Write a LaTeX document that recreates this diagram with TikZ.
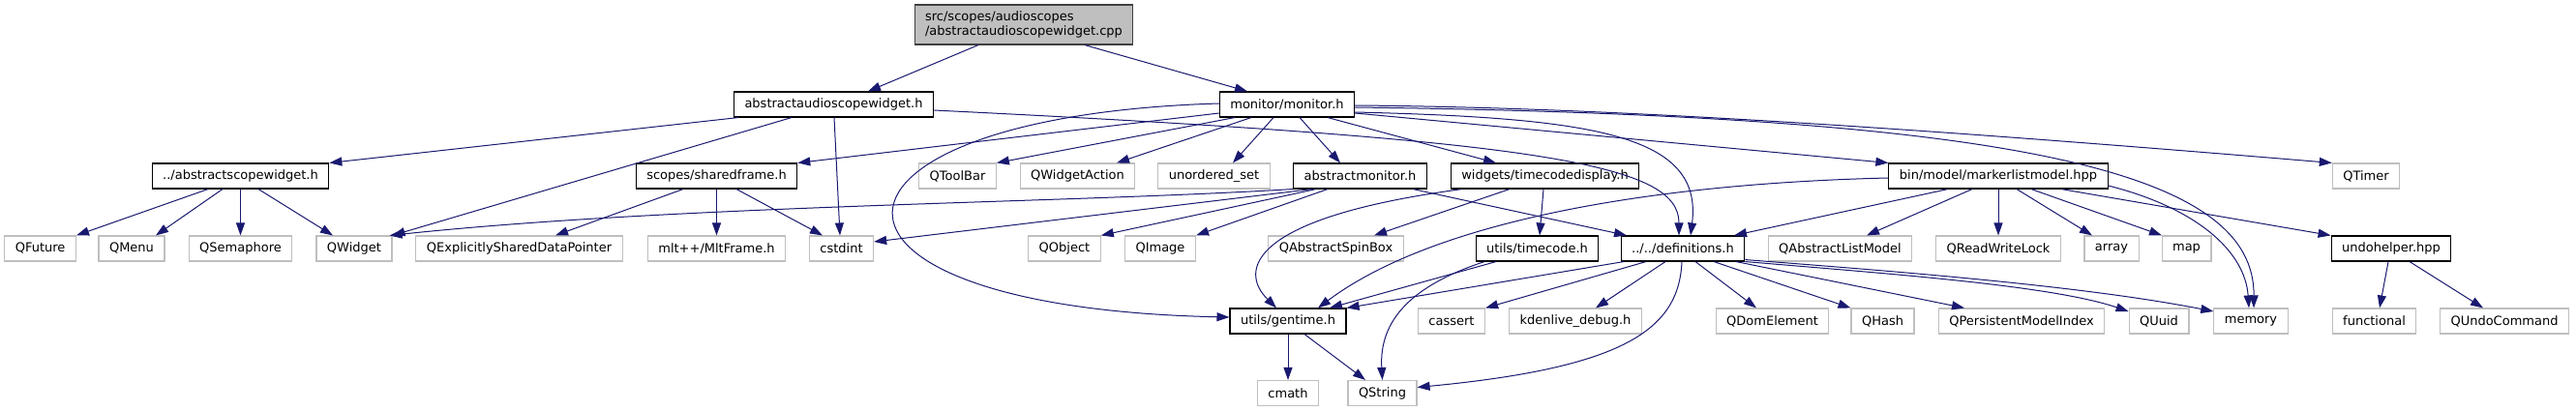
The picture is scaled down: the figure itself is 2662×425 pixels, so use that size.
\documentclass[tikz,border=0pt]{standalone}
\usepackage{fontspec}
\setmainfont{DejaVu Sans}
\usepackage{tikz}
\usetikzlibrary{
  arrows.meta
}
\definecolor{dxblue}{HTML}{191970}
\definecolor{dxgrey}{HTML}{BFBFBF}

\begin{document}
\begin{tikzpicture}[
    x=1pt, y=-1pt,
    font=\fontsize{13}{14.5}\selectfont,
    >={Triangle[length=13pt,width=9pt]},
    % Box styles
    box/.style={
        rectangle, line width=1.1pt, fill=white,
        minimum height=26pt, inner xsep=11pt, inner ysep=3pt
    },
    doc/.style={box, draw=black},
    ext/.style={box, draw=dxgrey},
    top/.style={box, draw=black!75, fill=dxgrey, align=left, minimum height=41pt},
    % Arrow style
    arr/.style={->, line width=1pt, draw=dxblue, fill=none}
]

\useasboundingbox[fill=white] (0,0) rectangle (2662,425);

% ==========================================
% NODES & PLACEMENT
% ==========================================

% --- Source file (Level 0) ---
\node[top] (src) at (1058,25.5) {src/scopes/audioscopes\\/abstractaudioscopewidget.cpp};

% --- Direct includes (Level 1) ---
\node[doc] (aasw) at (861.5,108) {abstractaudioscopewidget.h};
\node[doc] (mon) at (1330,108) {monitor/monitor.h};

% --- Level 2 ---
\node[doc] (asw) at (248.5,182) {../abstractscopewidget.h};
\node[doc] (shf) at (740.5,182) {scopes/sharedframe.h};
\node[ext] (qtoolbar) at (989.5,182) {QToolBar};
\node[ext] (qwaction) at (1113.5,182) {QWidgetAction};
\node[ext] (uset) at (1254.5,182) {unordered\_set};
\node[doc] (amon) at (1405.5,182) {abstractmonitor.h};
\node[doc] (tcd) at (1596.5,182) {widgets/timecodedisplay.h};
\node[doc] (mlm) at (2065,182) {bin/model/markerlistmodel.hpp};
\node[ext] (qtimer) at (2445,182) {QTimer};

% --- Level 3 ---
\node[ext] (qfuture) at (41.6,257) {QFuture};
\node[ext] (qmenu) at (136,257) {QMenu};
\node[ext] (qsema) at (248.5,257) {QSemaphore};
\node[ext] (qwidget) at (366,257) {QWidget};
\node[ext] (qesdp) at (536.5,257) {QExplicitlySharedDataPointer};
\node[ext] (mltframe) at (740.5,257) {mlt++/MltFrame.h};
\node[ext] (cstdint) at (869.5,257) {cstdint};
\node[ext] (qobject) at (1100,257) {QObject};
\node[ext] (qimage) at (1199,257) {QImage};
\node[ext] (qaspin) at (1380.5,257) {QAbstractSpinBox};
\node[doc] (tc) at (1588.5,257) {utils/timecode.h};
\node[doc] (defs) at (1739,257) {../../definitions.h};
\node[ext] (qalm) at (1901.5,257) {QAbstractListModel};
\node[ext] (qrwl) at (2065,257) {QReadWriteLock};
\node[ext] (array) at (2182,257) {array};
\node[ext] (map) at (2259.5,257) {map};
\node[doc] (undo) at (2471,257) {undohelper.hpp};

% --- Level 4 ---
\node[doc] (gentime) at (1331,332) {utils/gentime.h};
\node[ext] (cassert) at (1500,332) {cassert};
\node[ext] (kdebug) at (1628,332) {kdenlive\_debug.h};
\node[ext] (qdom) at (1831.5,332) {QDomElement};
\node[ext] (qhash) at (1945.5,332) {QHash};
\node[ext] (qpmi) at (2089,332) {QPersistentModelIndex};
\node[ext] (quuid) at (2231,332) {QUuid};
\node[ext] (memory) at (2326,332) {memory};
\node[ext] (functional) at (2453.5,332) {functional};
\node[ext] (qundo) at (2588,332) {QUndoCommand};

% --- Level 5 ---
\node[ext] (cmath) at (1331,406.5) {cmath};
\node[ext] (qstring) at (1428.5,406.5) {QString};

% ==========================================
% INCLUDE EDGES
% ==========================================

% 1. Source file
\draw[arr] ([xshift=-47pt]src.south) -- ([xshift=35.5pt]aasw.north);
\draw[arr] ([xshift=63pt]src.south) -- ([xshift=-41pt]mon.north);

% 2. abstractaudioscopewidget.h
\draw[arr] ([xshift=-98.5pt]aasw.south) -- (asw.north east);
\draw[arr] ([xshift=-43.5pt]aasw.south) -- (qwidget.north east);
\draw[arr] ([xshift=0.5pt]aasw.south) -- ([xshift=-1.5pt]cstdint.north);
\draw[arr] ([yshift=-6pt]aasw.east) .. controls (1600,145) and (1735,170) .. ([xshift=-4pt]defs.north);

% 3. ../abstractscopewidget.h
\draw[arr] ([xshift=-33.5pt]asw.south) -- (qfuture.north east);
\draw[arr] ([xshift=-18.5pt]asw.south) -- ([xshift=25pt]qmenu.north);
\draw[arr] (asw.south) -- (qsema.north);
\draw[arr] ([xshift=18.5pt]asw.south) -- ([xshift=-22pt]qwidget.north);

% 4. scopes/sharedframe.h
\draw[arr] ([xshift=-34.5pt]shf.south) -- ([xshift=37.5pt]qesdp.north);
\draw[arr] (shf.south) -- (mltframe.north);
\draw[arr] ([xshift=20.5pt]shf.south) -- ([xshift=-19.5pt]cstdint.north);

% 5. monitor/monitor.h
\draw[arr] ([yshift=-9pt]mon.west) -- (shf.north east);
\draw[arr] ([xshift=-54pt]mon.south) -- (qtoolbar.north east);
\draw[arr] ([xshift=-37pt]mon.south) -- ([xshift=40.5pt]qwaction.north);
\draw[arr] ([xshift=-14pt]mon.south) -- ([xshift=19.5pt]uset.north);
\draw[arr] ([xshift=13pt]mon.south) -- ([xshift=-20.5pt]amon.north);
\draw[arr] ([xshift=42pt]mon.south) -- ([xshift=-50.5pt]tcd.north);
\draw[arr] ([yshift=-9pt]mon.east) -- (mlm.north west);
\draw[arr] ([yshift=-1pt]mon.east) .. controls (1650,111) and (1950,130) .. (qtimer.north west);
\draw[arr] ([yshift=-3pt]mon.east) .. controls (2100,120) and (2330,180) .. ([xshift=3pt]memory.north);
\draw[arr] ([yshift=-8pt]mon.east) .. controls (1650,122) and (1760,140) .. ([xshift=8pt]defs.north);
\draw[arr] ([yshift=1pt]mon.west) .. controls (820,120) and (800,318) .. ([yshift=4pt]gentime.west);

% 6. abstractmonitor.h
\draw[arr] (amon.south west) .. controls (1100,210) and (700,212) .. ([xshift=-3pt]qwidget.north east);
\draw[arr] ([xshift=-49.5pt]amon.south) -- ([yshift=7pt]cstdint.east);
\draw[arr] ([xshift=-45.5pt]amon.south) -- (qobject.north east);
\draw[arr] ([xshift=-33.5pt]amon.south) -- (qimage.north east);
\draw[arr] ([xshift=54.5pt]amon.south) -- ([xshift=-58pt]defs.north);

% 7. widgets/timecodedisplay.h
\draw[arr] ([xshift=-85.5pt]tcd.south) .. controls (1290,225) and (1280,280) .. ([xshift=-12pt]gentime.north);
\draw[arr] ([xshift=-36.5pt]tcd.south) -- ([xshift=39.5pt]qaspin.north);
\draw[arr] ([xshift=-1.5pt]tcd.south) -- ([xshift=2.5pt]tc.north);

% 8. bin/model/markerlistmodel.hpp
\draw[arr] ([yshift=-2pt]mlm.west) .. controls (1700,190) and (1480,230) .. ([xshift=31pt]gentime.north);
\draw[arr] ([xshift=-52pt]mlm.south) -- ([xshift=53pt]defs.north);
\draw[arr] ([xshift=-27pt]mlm.south) -- ([xshift=27.5pt]qalm.north);
\draw[arr] (mlm.south) -- (qrwl.north);
\draw[arr] ([xshift=19pt]mlm.south) -- ([xshift=-20pt]array.north);
\draw[arr] ([xshift=34pt]mlm.south) -- ([xshift=-25.5pt]map.north);
\draw[arr] ([xshift=65pt]mlm.south) -- (undo.north west);
\draw[arr] ([yshift=-10pt]mlm.east) .. controls (2270,215) and (2320,260) .. ([xshift=-2pt]memory.north);

% 9. utils/timecode.h
\draw[arr] ([xshift=-42.5pt]tc.south) -- ([xshift=43pt]gentime.north);
\draw[arr] ([xshift=-54.5pt]tc.south) .. controls (1460,295) and (1425,330) .. (qstring.north);

% 10. ../../definitions.h
\draw[arr] ([xshift=-61pt]defs.south) -- (gentime.north east);
\draw[arr] ([xshift=-38pt]defs.south) -- (cassert.north east);
\draw[arr] ([xshift=-18pt]defs.south) -- ([xshift=21pt]kdebug.north);
\draw[arr] ([xshift=-1pt]defs.south) .. controls (1735,340) and (1680,380) .. ([yshift=6pt]qstring.east);
\draw[arr] ([xshift=13pt]defs.south) -- ([xshift=-16.5pt]qdom.north);
\draw[arr] ([xshift=32pt]defs.south) -- (qhash.north west);
\draw[arr] ([xshift=55pt]defs.south) -- ([xshift=-59pt]qpmi.north);
\draw[arr] (defs.south east) .. controls (1950,283) and (2120,295) .. ([yshift=10pt]quuid.west);
\draw[arr] ([yshift=2pt]defs.south east) .. controls (1950,280) and (2150,295) .. ([yshift=10pt]memory.west);

% 11. utils/gentime.h
\draw[arr] (gentime.south) -- (cmath.north);
\draw[arr] ([xshift=17pt]gentime.south) -- ([xshift=-17.5pt]qstring.north);

% 12. undohelper.hpp
\draw[arr] ([xshift=-3pt]undo.south) -- ([xshift=5.5pt]functional.north);
\draw[arr] ([xshift=19pt]undo.south) -- ([xshift=-22pt]qundo.north);

\end{tikzpicture}
\end{document}
